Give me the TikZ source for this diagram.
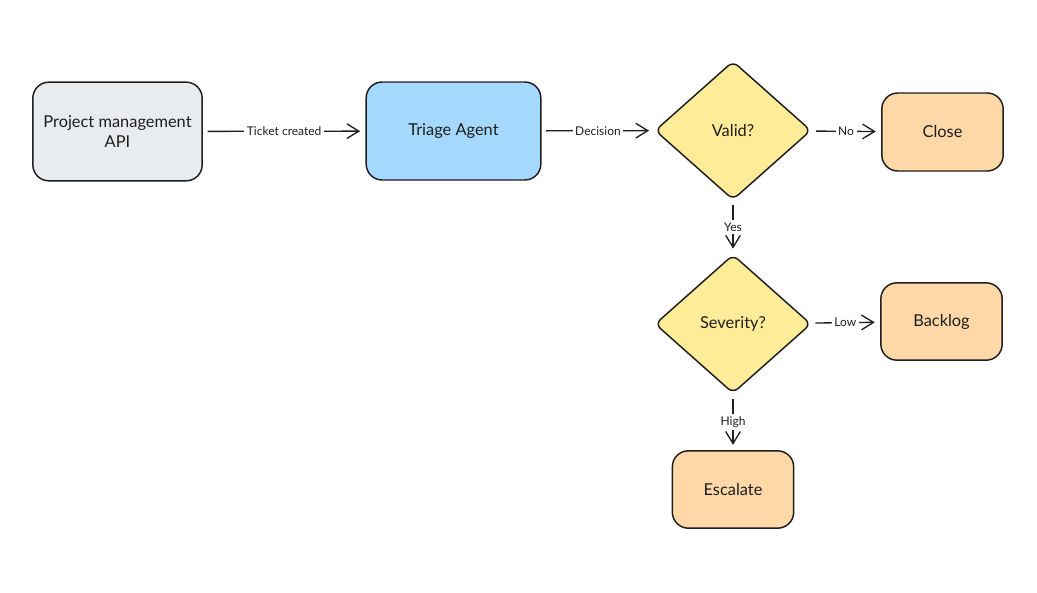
\documentclass[tikz,border=0pt]{standalone}
\usepackage{fontspec}
\setmainfont{Lato}
\usepackage{xcolor}
\usepackage{tikz}
\usetikzlibrary{arrows.meta, shapes.geometric}
\definecolor{encre}{HTML}{1E1E1E}
\definecolor{gris}{HTML}{E9ECEF}
\definecolor{bleu}{HTML}{A5D8FF}
\definecolor{jaune}{HTML}{FFEC99}
\definecolor{peche}{HTML}{FFD8A8}

\begin{document}
\begin{tikzpicture}[x=0.75pt, y=-0.75pt,
    boite/.style={draw=encre, line width=1.1pt, rounded corners=12pt, inner sep=0pt,
      align=center, text=encre, font=\fontsize{12.3}{15}\selectfont},
    choix/.style={diamond, draw=encre, fill=jaune, line width=1.1pt, rounded corners=5pt,
      inner sep=0pt, minimum width=117pt, minimum height=104pt, text=encre,
      font=\fontsize{12.3}{15}\selectfont},
    fleche/.style={draw=encre, line width=1pt, -{Straight Barb[length=9pt, width=11pt]},
      shorten <=3.5pt, shorten >=4pt},
    etiq/.style={fill=white, inner sep=2pt, text=encre, font=\fontsize{9}{11}\selectfont}]
    \useasboundingbox (0,0) rectangle (1037,592);
    % noeuds
    \node[boite, fill=gris, minimum width=127pt, minimum height=74pt] (api) at (117.5,131.5)
      {Project management\\API};
    \node[boite, fill=bleu, minimum width=131pt, minimum height=73.5pt] (triage) at (453.5,131)
      {Triage Agent};
    \node[choix] (valide) at (733,130.5) {Valid?};
    \node[boite, fill=peche, minimum width=91pt, minimum height=58.5pt] (close) at (942.5,132) {Close};
    \node[choix] (severite) at (733,324) {Severity?};
    \node[boite, fill=peche, minimum width=91pt, minimum height=58pt] (backlog) at (941.5,321.5) {Backlog};
    \node[boite, fill=peche, minimum width=91pt, minimum height=58pt] (escalade) at (733,489.5) {Escalate};
    % liens
    \draw[fleche] (api) -- node[etiq] {Ticket created} (triage);
    \draw[fleche] (triage) -- node[etiq] {Decision} (valide);
    \draw[fleche] (valide) -- node[etiq] {No} (close);
    \draw[fleche] (valide) -- node[etiq] {Yes} (severite);
    \draw[fleche] (severite) -- node[etiq] {Low} (backlog);
    \draw[fleche] (severite) -- node[etiq] {High} (escalade);
\end{tikzpicture}
\end{document}
